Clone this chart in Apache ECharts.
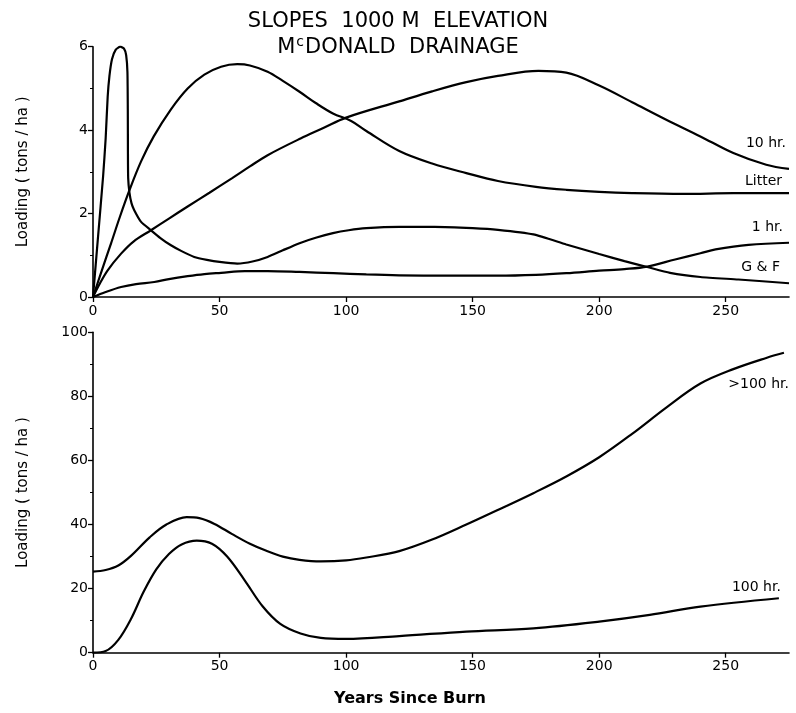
<!DOCTYPE html>
<html>
<head>
<meta charset="utf-8">
<script src="https://cdn.jsdelivr.net/npm/echarts@6/dist/echarts.min.js"></script>
<style>
html,body{margin:0;padding:0;background:#fff;}
#chart{width:796px;height:713px;}
</style>
</head>
<body>
<div id="chart"></div>
<script>
// ---- Data (years since burn, loading in tons/ha) ----
const xTicks = [0, 50, 100, 150, 200, 250];

const gfYears = [0, 2, 4, 5, 5.8, 6.5, 7.5, 9, 10.8, 12.3, 13.1, 13.6, 13.75, 13.8, 13.9, 14.4, 15.2, 16.3, 19, 22.9, 26.5, 30.8, 35, 40, 45, 50, 57, 63, 69, 75, 81.6, 88, 94.8, 101, 108, 121, 135, 150, 160, 174, 187, 200, 210, 219, 228, 240, 255, 275];
const gfLoad  = [0, 1.45, 2.9, 3.8, 4.8, 5.3, 5.7, 5.93, 6.0, 5.95, 5.8, 5.4, 4.5, 3.5, 2.85, 2.5, 2.25, 2.08, 1.8, 1.6, 1.42, 1.24, 1.1, 0.96, 0.89, 0.84, 0.8, 0.85, 0.96, 1.12, 1.29, 1.42, 1.53, 1.6, 1.65, 1.68, 1.68, 1.65, 1.61, 1.5, 1.26, 1.03, 0.86, 0.72, 0.58, 0.48, 0.42, 0.33];

const litterYears = [0, 3.5, 7.1, 10.5, 14.4, 19, 24, 30.8, 37.4, 44, 50.6, 57, 62, 69, 75, 81.6, 88, 94.8, 102, 108, 121, 134, 147.5, 160, 175, 187, 200, 213, 233, 253, 275];
const litterLoad  = [0, 0.64, 1.28, 1.9, 2.56, 3.25, 3.85, 4.5, 5.0, 5.33, 5.52, 5.58, 5.55, 5.4, 5.18, 4.92, 4.65, 4.4, 4.22, 3.98, 3.5, 3.2, 2.97, 2.78, 2.64, 2.57, 2.52, 2.49, 2.47, 2.49, 2.49];

const tenYears = [0, 2.5, 5.8, 11.1, 16, 22.9, 30, 37.4, 46, 55, 62, 69, 82, 91, 100, 121, 134, 147.5, 160, 176, 187, 200, 213, 226.5, 240, 253, 266, 275];
const tenLoad  = [0, 0.3, 0.64, 1.04, 1.33, 1.6, 1.88, 2.17, 2.5, 2.85, 3.13, 3.4, 3.8, 4.05, 4.3, 4.69, 4.93, 5.15, 5.3, 5.42, 5.38, 5.07, 4.67, 4.25, 3.85, 3.45, 3.17, 3.07];

const oneYears = [0, 5, 11.1, 17, 24.2, 30, 37.4, 44, 50.6, 60, 69, 81.6, 95, 108, 121, 140, 160, 175, 187, 200, 210, 219, 230, 240, 246, 259, 275];
const oneLoad  = [0, 0.12, 0.24, 0.31, 0.36, 0.43, 0.5, 0.55, 0.58, 0.62, 0.62, 0.6, 0.57, 0.54, 0.52, 0.51, 0.51, 0.53, 0.57, 0.63, 0.67, 0.73, 0.9, 1.05, 1.14, 1.25, 1.3];

const bigYears = [0, 5, 10, 15, 22.4, 29, 37, 42, 48, 55, 62, 68.5, 75, 81.6, 90, 100, 108, 121, 134, 147.5, 160.6, 174, 187, 200, 213, 226.5, 240, 253, 266, 273];
const bigLoad  = [25.3, 25.8, 27.2, 30.2, 36, 40, 42.3, 42, 40.2, 37, 34, 31.8, 30, 29, 28.5, 28.8, 29.7, 31.7, 35.3, 40, 44.8, 49.8, 55, 61, 68.3, 76.5, 84, 88.5, 92, 93.6];

const hundYears = [0, 5, 10, 15, 20, 25, 30, 35, 41, 47, 53, 60, 67, 74, 82, 90, 100, 121, 147.5, 174, 200, 220, 240, 271];
const hundLoad  = [0, 0.5, 4, 10.5, 19, 26, 30.8, 33.8, 35, 34, 30, 22.5, 14.5, 9, 6, 4.6, 4.3, 5.2, 6.6, 7.6, 9.7, 11.8, 14.4, 17];

const seriesNames = ['10 hr.', 'Litter', '1 hr.', 'G & F', '>100 hr.', '100 hr.'];

// ---- helpers ----
const zip = (xs, ys) => xs.map((x, i) => [x, ys[i]]);
const FONT = 'DejaVu Sans';
const BLACK = '#000';

function curve(name, xs, ys, panel, labelOffset, smooth) {
  return {
    name: name,
    type: 'line',
    xAxisIndex: panel,
    yAxisIndex: panel,
    data: zip(xs, ys),
    smooth: smooth,
    showSymbol: false,
    symbol: 'none',
    lineStyle: { color: BLACK, width: 2.2 },
    animation: false,
    silent: true,
    markPoint: {
      symbol: 'circle',
      symbolSize: 0,
      silent: true,
      animation: false,
      data: [{ coord: [xs[xs.length - 1], ys[ys.length - 1]] }],
      label: {
        show: true,
        formatter: name,
        position: 'left',
        distance: 0,
        offset: labelOffset,
        color: BLACK,
        fontFamily: FONT,
        fontSize: 14
      }
    }
  };
}

function xAxis(gridIndex, withName) {
  const ax = {
    type: 'value',
    gridIndex: gridIndex,
    min: 0,
    max: 275,
    interval: 50,
    axisLine: { show: true, onZero: false, lineStyle: { color: BLACK, width: 1.6 } },
    axisTick: { show: true, inside: false, length: 5, customValues: xTicks, lineStyle: { color: BLACK, width: 1.3 } },
    axisLabel: { customValues: xTicks, color: BLACK, fontFamily: FONT, fontSize: 14, margin: 7 },
    splitLine: { show: false }
  };
  if (withName) {
    ax.name = 'Years Since Burn';
    ax.nameLocation = 'middle';
    ax.nameGap = 38;
    ax.nameTextStyle = { color: BLACK, fontFamily: FONT, fontSize: 16, fontWeight: 'bold', padding: [0, 62, 0, 0] };
  }
  return ax;
}

function yAxis(gridIndex, max, interval) {
  return {
    type: 'value',
    gridIndex: gridIndex,
    min: 0,
    max: max,
    interval: interval,
    name: 'Loading ( tons / ha )',
    nameLocation: 'middle',
    nameRotate: 90,
    nameGap: 62,
    nameTextStyle: { color: BLACK, fontFamily: FONT, fontSize: 15 },
    axisLine: { show: true, lineStyle: { color: BLACK, width: 1.6 } },
    axisTick: { show: true, inside: false, length: 5, lineStyle: { color: BLACK, width: 1.3 } },
    minorTick: { show: true, splitNumber: 2, length: 3, lineStyle: { color: BLACK, width: 1 } },
    axisLabel: { color: BLACK, fontFamily: FONT, fontSize: 14, margin: 5 },
    splitLine: { show: false },
    minorSplitLine: { show: false }
  };
}

const chart = echarts.init(document.getElementById('chart'), null, { renderer: 'canvas' });

chart.setOption({
  backgroundColor: '#fff',
  animation: false,
  title: {
    text: 'SLOPES  1000 M  ELEVATION\nM{s|c}DONALD  DRAINAGE',
    left: 'center',
    top: 4,
    textStyle: {
      color: BLACK,
      fontFamily: FONT,
      fontSize: 21,
      fontWeight: 'normal',
      lineHeight: 26,
      rich: {
        s: { color: BLACK, fontFamily: FONT, fontSize: 14, lineHeight: 26, verticalAlign: 'top', padding: [0, 1, 6, 1] }
      }
    }
  },
  grid: [
    { left: 93, right: 7, top: 46.7, height: 250.3 },
    { left: 93, right: 7, top: 332.3, height: 320.4 }
  ],
  xAxis: [xAxis(0, false), xAxis(1, true)],
  yAxis: [yAxis(0, 6, 2), yAxis(1, 100, 20)],
  series: [
    curve(seriesNames[0], tenYears, tenLoad, 0, [-3, -26], 0.35),
    curve(seriesNames[1], litterYears, litterLoad, 0, [-7, -12], 0.35),
    curve(seriesNames[2], oneYears, oneLoad, 0, [-6, -15], 0.35),
    curve(seriesNames[3], gfYears, gfLoad, 0, [-9, -16], 0.2),
    curve(seriesNames[4], bigYears, bigLoad, 1, [5, 32], 0.35),
    curve(seriesNames[5], hundYears, hundLoad, 1, [2, -11], 0.35)
  ]
});
</script>
</body>
</html>
